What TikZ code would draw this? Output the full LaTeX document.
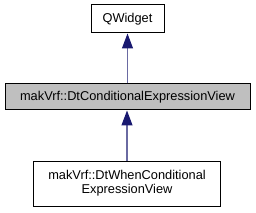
\documentclass[tikz,border=0pt]{standalone}
\usepackage{fontspec}
\setmainfont{Liberation Sans}
\usetikzlibrary{arrows.meta}
\definecolor{edgeblue}{HTML}{191970}
\definecolor{graybox}{HTML}{BFBFBF}
\tikzset{
  cls/.style={draw=black, line width=1pt, inner sep=0pt, align=center, font=\fontsize{12.8}{14}\selectfont},
  inh/.style={draw=edgeblue!65!white, line width=1.1pt, -{Triangle[length=15pt,width=11pt,fill=edgeblue,color=edgeblue]}}
}
\begin{document}
\begin{tikzpicture}[x=1pt,y=-1pt]
\useasboundingbox (0,0) rectangle (256,213);
\node[cls, minimum width=73pt, minimum height=28pt] (qw) at (127.5,19) {QWidget};
\node[cls, fill=graybox, minimum width=245pt, minimum height=26pt] (dc) at (127.5,97) {makVrf::DtConditionalExpressionView};
\node[cls, minimum width=187pt, minimum height=45pt] (wc) at (127,183.5) {makVrf::DtWhenConditional\\ExpressionView};
\draw[inh] (dc.north -| qw.south) -- (qw.south);
\draw[inh] (wc.north) -- (wc.north |- dc.south);
\end{tikzpicture}
\end{document}
